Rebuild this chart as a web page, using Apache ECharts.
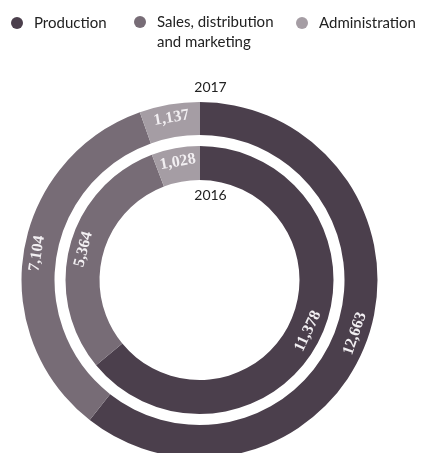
<!DOCTYPE html>
<html><head><meta charset="utf-8">
<style>html,body{margin:0;padding:0;background:#fff;}#c{width:421px;height:453px;}</style>
<script src="https://cdn.jsdelivr.net/npm/echarts@6/dist/echarts.min.js"></script>
</head><body><div id="c"></div>
<script>
const categories = ['Production', 'Sales, distribution\nand marketing', 'Administration'];
const values2017 = [12663, 7104, 1137];
const values2016 = [11378, 5364, 1028];
const years = ['2017', '2016'];
const colors = ['#4b3f4c', '#776c76', '#a59da4'];

const chart = echarts.init(document.getElementById('c'));
const fmt = v => v.toLocaleString('en-US');
const labelStyle = {
  show: true, position: 'inside',
  formatter: p => fmt(p.value),
  color: '#f2eff2', fontFamily: 'Liberation Serif', fontWeight: 'bold', fontSize: 16
};
// data items, label rotated tangentially (text reading upward on the sides)
const mk = vals => {
  const total = vals.reduce((a, b) => a + b, 0);
  let acc = 0;
  return categories.map((n, i) => {
    const mid = (acc + vals[i] / 2) / total * 360;
    acc += vals[i];
    const rot = mid < 180 ? 180 - mid : 360 - mid;
    return { name: n, value: vals[i], itemStyle: { color: colors[i] }, label: { rotate: rot } };
  });
};
const legendLeft = [6, 129, 291];
const legendTop = [8, -13, 8];
chart.setOption({
  animation: false,
  legend: categories.map((n, i) => ({
    left: legendLeft[i], top: legendTop[i], icon: 'circle', itemWidth: 12, itemHeight: 12,
    selectedMode: false,
    formatter: name => (name.indexOf('\n') >= 0 ? '\n' + name : name),
    data: [{ name: n, textStyle: { padding: [0, 0, 0, 6] } }],
    textStyle: { fontFamily: 'Lato', fontSize: 15, color: '#222', lineHeight: 20 }
  })),
  graphic: [
    { type: 'text', left: 'center', top: 80, style: { text: years[0], font: '14px Lato', fill: '#222' } },
    { type: 'text', left: 'center', top: 188, style: { text: years[1], font: '14px Lato', fill: '#222' } }
  ],
  series: [
    { type: 'pie', name: years[0], center: [199.5, 280], radius: [145, 178], startAngle: 90, clockwise: true,
      label: labelStyle, labelLine: { show: false }, data: mk(values2017), silent: true },
    { type: 'pie', name: years[1], center: [199.5, 280], radius: [100, 134], startAngle: 90, clockwise: true,
      label: labelStyle, labelLine: { show: false }, data: mk(values2016), silent: true }
  ]
});
</script></body></html>
